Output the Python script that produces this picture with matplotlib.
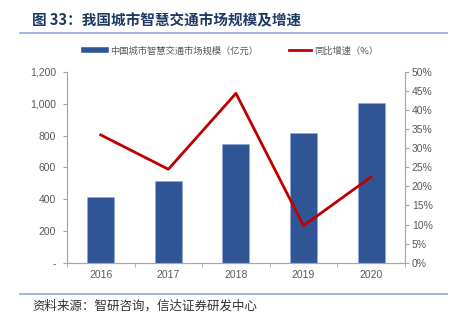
import matplotlib.pyplot as plt
from matplotlib.lines import Line2D
from matplotlib.ticker import FuncFormatter, FixedLocator

plt.rcParams['font.family'] = ['Liberation Sans', 'Noto Sans CJK SC', 'DejaVu Sans']

# ── Data ───────────────────────────────────────────────────────────────────────
YEARS = ["2016", "2017", "2018", "2019", "2020"]
MARKET_SIZE = [416, 515, 747, 816, 1003]      # 亿元
GROWTH = [33.5, 24.5, 44.4, 9.7, 22.5]        # %

BAR_COLOR = "#2F5597"
LINE_COLOR = "#C00000"
TICK_COLOR = "#595959"
SPINE_COLOR = "#A6A6A6"
CJK = ['Noto Sans CJK SC', 'DejaVu Sans']

# ── Figure ─────────────────────────────────────────────────────────────────────
fig = plt.figure(figsize=(4.57, 3.25), dpi=100)
ax = fig.add_axes([0.1466, 0.1917, 0.7394, 0.5868])
ax2 = ax.twinx()

x = list(range(len(YEARS)))
ax.bar(x, MARKET_SIZE, width=0.4, color=BAR_COLOR, edgecolor="#8FAADC",
       linewidth=0.4, zorder=2)
ax2.plot(x, GROWTH, color=LINE_COLOR, linewidth=2, zorder=3)

ax.set_xlim(-0.5, 4.5)
ax.set_ylim(0, 1200)
ax2.set_ylim(0, 50)

ax.set_yticks(range(0, 1201, 200))
ax.yaxis.set_major_formatter(FuncFormatter(lambda v, p: "-" if v == 0 else f"{int(v):,}"))
ax2.set_yticks(range(0, 51, 5))
ax2.yaxis.set_major_formatter(FuncFormatter(lambda v, p: f"{int(v)}%"))

ax.set_xticks(x)
ax.set_xticklabels(YEARS)
ax.xaxis.set_minor_locator(FixedLocator([i - 0.5 for i in range(len(YEARS) + 1)]))
ax.tick_params(axis="x", which="major", length=0, pad=5)
ax.tick_params(axis="x", which="minor", length=3, color=SPINE_COLOR)
ax.tick_params(axis="y", length=3, color=SPINE_COLOR, pad=5)
ax2.tick_params(axis="y", length=3, color=SPINE_COLOR, pad=2)
for a in (ax, ax2):
    a.tick_params(labelsize=7.5, labelcolor=TICK_COLOR)
    a.spines["top"].set_visible(False)
    for side in ("left", "right", "bottom"):
        a.spines[side].set_color(SPINE_COLOR)
        a.spines[side].set_linewidth(0.8)

# ── Legend ─────────────────────────────────────────────────────────────────────
handles = [Line2D([], [], color=BAR_COLOR, linewidth=4),
           Line2D([], [], color=LINE_COLOR, linewidth=2)]
labels = ["中国城市智慧交通市场规模（亿元）", "同比增速（%）"]
fig.legend(handles, labels, loc="center", bbox_to_anchor=(0.506, 0.843), ncol=2,
           frameon=False, handlelength=2.4, columnspacing=3.3, handletextpad=0.4,
           prop={"family": CJK, "size": 6.7}, labelcolor=TICK_COLOR)

# ── Title & source ─────────────────────────────────────────────────────────────
fig.text(0.07, 0.938, "图 33：我国城市智慧交通市场规模及增速", fontsize=10.5,
         fontweight="bold", color="#1F3864", family=CJK, va="center")
fig.add_artist(Line2D([0.044, 0.978], [0.900, 0.900], color="#8EA9DB",
                      linewidth=1.2, transform=fig.transFigure))
fig.add_artist(Line2D([0.044, 0.978], [0.095, 0.095], color="#8EA9DB",
                      linewidth=1.2, transform=fig.transFigure))
fig.text(0.072, 0.058, "资料来源：智研咨询，信达证券研发中心", fontsize=9,
         style="italic", color="#333333", family=CJK, va="center")

fig.savefig("out.png", dpi=100)
